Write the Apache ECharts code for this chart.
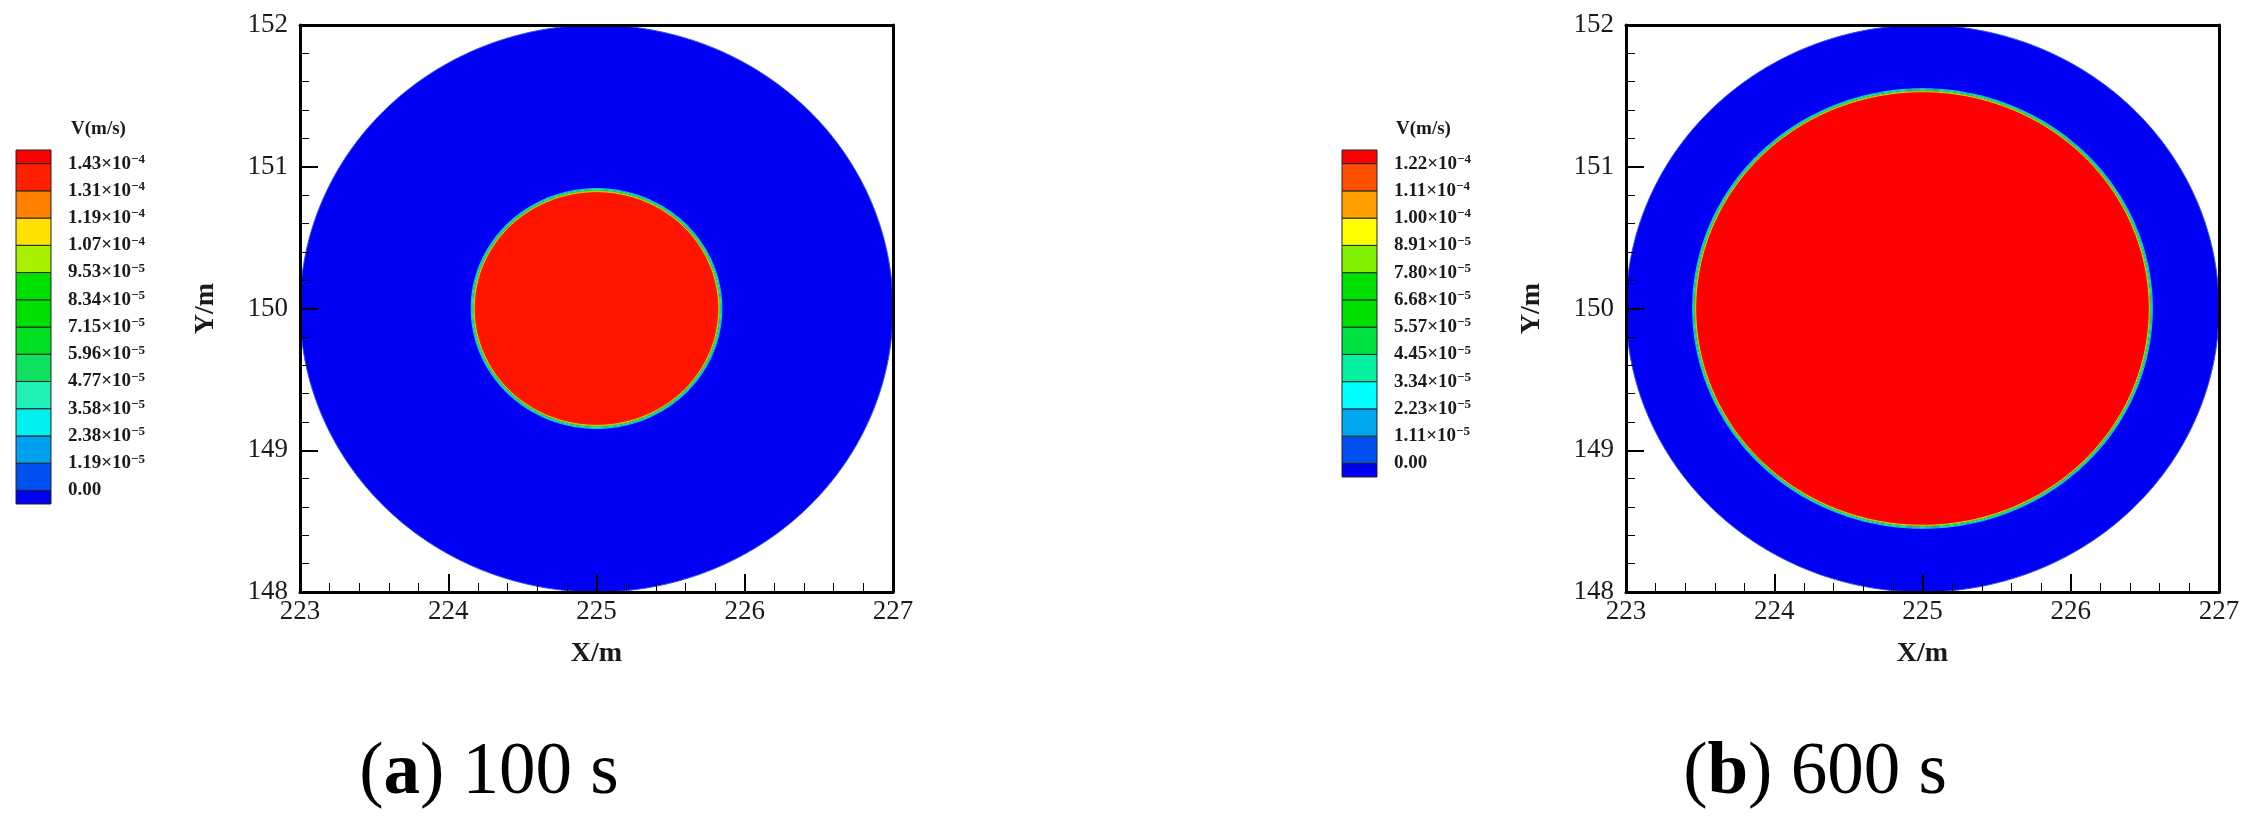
<!DOCTYPE html>
<html>
<head>
<meta charset="utf-8">
<script src="https://cdn.jsdelivr.net/npm/echarts@6/dist/echarts.min.js"></script>
<style>
html,body{margin:0;padding:0;background:#fff;}
#chart{width:2257px;height:833px;}
</style>
</head>
<body>
<div id="chart"></div>
<script>
// ---------------- data ----------------
const xTicks = [223, 224, 225, 226, 227];
const yTicks = [148, 149, 150, 151, 152];

// concentric discs: [centerX, centerY, radius]
const domainA = [225, 150, 2.0];      // whole (blue) domain, panel a
const frontA  = [225, 150, 0.835];    // red region, panel a (100 s)
const domainB = [225, 150, 2.0];
const frontB  = [225, 150, 1.54];     // red region, panel b (600 s)

const levelsA = [0, 1.19e-5, 2.38e-5, 3.58e-5, 4.77e-5, 5.96e-5, 7.15e-5, 8.34e-5, 9.53e-5, 1.07e-4, 1.19e-4, 1.31e-4, 1.43e-4];
const colorsA = ['#0000f0', '#0050f0', '#00a0f0', '#00f0f0', '#20f0b8', '#10e060', '#00e020', '#00e000', '#00e000', '#a8f000', '#ffe000', '#ff8000', '#ff2000', '#ff0000'];
const levelsB = [0, 1.11e-5, 2.23e-5, 3.34e-5, 4.45e-5, 5.57e-5, 6.68e-5, 7.80e-5, 8.91e-5, 1.00e-4, 1.11e-4, 1.22e-4];
const colorsB = ['#0000f0', '#0050f0', '#00a8f0', '#00ffff', '#00f0a0', '#00e040', '#00e000', '#00e000', '#80f000', '#ffff00', '#ffa000', '#ff5000', '#ff0000'];

const legendTitle = 'V(m/s)';
const captions = [['a', '100 s'], ['b', '600 s']];
const xName = 'X/m', yName = 'Y/m';

// ---------------- helpers ----------------
const FONT = '"Liberation Serif", "Times New Roman", "DejaVu Serif", serif';
const BLUE = '#0000f5';
const RED_A = '#ff1400';
const RED_B = '#ff0000';

function fmtLevel(v) {
  if (v === 0) return '0.00';
  const e = Math.floor(Math.log10(v) + 1e-9);
  const m = (v / Math.pow(10, e)).toFixed(2);
  return m + '×10{s|−' + Math.abs(e) + '}';
}

function circlePixels(api, c, offsetPx) {
  const N = 360;
  const cp = api.coord([c[0], c[1]]);
  const pts = [];
  for (let k = 0; k < N; k++) {
    const a = 2 * Math.PI * k / N;
    const p = api.coord([c[0] + c[2] * Math.cos(a), c[1] + c[2] * Math.sin(a)]);
    const dx = p[0] - cp[0], dy = p[1] - cp[1];
    const d = Math.sqrt(dx * dx + dy * dy) || 1;
    const f = (d + (offsetPx || 0)) / d;
    pts.push([cp[0] + dx * f, cp[1] + dy * f]);
  }
  return pts;
}

function discSeries(idx, domain, front, red) {
  return {
    type: 'custom',
    xAxisIndex: idx, yAxisIndex: idx,
    coordinateSystem: 'cartesian2d',
    clip: true,
    z: 2,
    data: [domain.concat([0]), front.concat([1])],
    encode: { x: 0, y: 1 },
    renderItem: function (params, api) {
      const c = [api.value(0), api.value(1), api.value(2)];
      const kind = api.value(3);
      if (kind === 0) {
        return { type: 'polygon', shape: { points: circlePixels(api, c, 0) }, style: { fill: BLUE, stroke: '#3050f8', lineWidth: 1 } };
      }
      return {
        type: 'group',
        children: [
          { type: 'polygon', shape: { points: circlePixels(api, c, 1.5) }, style: { fill: 'none', stroke: '#10b8f0', lineWidth: 1.2 } },
          { type: 'polygon', shape: { points: circlePixels(api, c, 0.5) }, style: { fill: 'none', stroke: '#20e8a0', lineWidth: 1.2 } },
          { type: 'polygon', shape: { points: circlePixels(api, c, -0.5) }, style: { fill: red, stroke: '#30e030', lineWidth: 1.2 } },
          { type: 'polygon', shape: { points: circlePixels(api, c, -1.5) }, style: { fill: 'none', stroke: '#d0e800', lineWidth: 1 } }
        ]
      };
    }
  };
}

function colorbarSeries(idx, levels, colors) {
  const n = levels.length;
  const data = [];
  for (let i = 0; i <= n; i++) {
    const y0 = i === 0 ? 0 : 2 * i - 1;
    const y1 = i === n ? 2 * n : 2 * i + 1;
    data.push([y0, y1, i]);
  }
  return {
    type: 'custom',
    xAxisIndex: idx, yAxisIndex: idx,
    coordinateSystem: 'cartesian2d',
    data: data,
    encode: { y: [0, 1] },
    renderItem: function (params, api) {
      const p0 = api.coord([0, api.value(1)]);
      const p1 = api.coord([1, api.value(0)]);
      return {
        type: 'rect',
        shape: { x: p0[0], y: p0[1], width: p1[0] - p0[0], height: p1[1] - p0[1] },
        style: { fill: colors[api.value(2)], stroke: '#222', lineWidth: 1 }
      };
    }
  };
}

const tickLabel = { fontFamily: FONT, fontSize: 27, color: '#1a1a1a' };
const nameStyle = { fontFamily: FONT, fontSize: 28, fontWeight: 'bold', color: '#1a1a1a' };

function mainX(gi) {
  return {
    gridIndex: gi, type: 'value', min: xTicks[0], max: xTicks[xTicks.length - 1], interval: 1,
    position: 'bottom', z: 5,
    name: xName, nameLocation: 'middle', nameGap: 48, nameTextStyle: nameStyle,
    axisLine: { show: true, onZero: false, lineStyle: { color: '#000', width: 3 } },
    axisTick: { show: true, inside: true, length: 18, lineStyle: { color: '#000', width: 2 } },
    minorTick: { show: true, splitNumber: 5, length: 9, lineStyle: { color: '#000', width: 1 } },
    splitLine: { show: false },
    axisLabel: Object.assign({ margin: 6 }, tickLabel)
  };
}
function boxX(gi) {
  return {
    gridIndex: gi, type: 'value', min: xTicks[0], max: xTicks[xTicks.length - 1], position: 'top', z: 5,
    axisLine: { show: true, onZero: false, lineStyle: { color: '#000', width: 3 } },
    axisTick: { show: false }, axisLabel: { show: false }, splitLine: { show: false }
  };
}
function mainY(gi) {
  return {
    gridIndex: gi, type: 'value', min: yTicks[0], max: yTicks[yTicks.length - 1], interval: 1,
    position: 'left', z: 5,
    name: yName, nameLocation: 'middle', nameGap: 80, nameTextStyle: nameStyle,
    axisLine: { show: true, onZero: false, lineStyle: { color: '#000', width: 3 } },
    axisTick: { show: true, inside: true, length: 18, lineStyle: { color: '#000', width: 2 } },
    minorTick: { show: true, splitNumber: 5, length: 9, lineStyle: { color: '#000', width: 1 } },
    splitLine: { show: false },
    axisLabel: Object.assign({ margin: 12 }, tickLabel)
  };
}
function boxY(gi) {
  return {
    gridIndex: gi, type: 'value', min: yTicks[0], max: yTicks[yTicks.length - 1], position: 'right', z: 5,
    axisLine: { show: true, onZero: false, lineStyle: { color: '#000', width: 3 } },
    axisTick: { show: false }, axisLabel: { show: false }, splitLine: { show: false }
  };
}
function cbX(gi) {
  return { gridIndex: gi, type: 'value', min: 0, max: 1, show: false };
}
function cbY(gi, levels) {
  return {
    gridIndex: gi, type: 'value', min: 0, max: 2 * levels.length, interval: 1, position: 'right',
    axisLine: { show: false }, axisTick: { show: false }, splitLine: { show: false },
    axisLabel: {
      show: true, margin: 17, align: 'left',
      fontFamily: FONT, fontWeight: 'bold', fontSize: 19, color: '#1a1a1a',
      formatter: function (v) {
        const i = Math.round(v);
        if (i % 2 === 1) return fmtLevel(levels[(i - 1) / 2]);
        return '';
      },
      rich: { s: { fontFamily: FONT, fontWeight: 'bold', fontSize: 13, verticalAlign: 'top', padding: [0, 0, 8, 0], color: '#1a1a1a' } }
    }
  };
}

const captionRich = {
  p: { fontFamily: FONT, fontSize: 73, color: '#000' },
  b: { fontFamily: FONT, fontSize: 73, fontWeight: 'bold', color: '#000' }
};

const option = {
  backgroundColor: '#ffffff',
  animation: false,
  grid: [
    { left: 300, top: 25, width: 593, height: 567 },
    { left: 1626, top: 25, width: 593, height: 567 },
    { left: 16, top: 150, width: 35, height: 354 },
    { left: 1342, top: 150, width: 35, height: 327 }
  ],
  xAxis: [mainX(0), mainX(1), boxX(0), boxX(1), cbX(2), cbX(3)],
  yAxis: [mainY(0), mainY(1), boxY(0), boxY(1), cbY(2, levelsA), cbY(3, levelsB)],
  series: [
    discSeries(0, domainA, frontA, RED_A),
    discSeries(1, domainB, frontB, RED_B),
    colorbarSeries(4, levelsA, colorsA),
    colorbarSeries(5, levelsB, colorsB)
  ],
  graphic: [
    { type: 'text', left: 71, top: 120, style: { text: legendTitle, font: 'bold 19px ' + FONT, fill: '#1a1a1a' } },
    { type: 'text', left: 1396, top: 120, style: { text: legendTitle, font: 'bold 19px ' + FONT, fill: '#1a1a1a' } },
    { type: 'text', x: 489, y: 774, style: { text: '{p|(}{b|' + captions[0][0] + '}{p|) ' + captions[0][1] + '}', rich: captionRich, align: 'center', verticalAlign: 'middle' } },
    { type: 'text', x: 1815, y: 774, style: { text: '{p|(}{b|' + captions[1][0] + '}{p|) ' + captions[1][1] + '}', rich: captionRich, align: 'center', verticalAlign: 'middle' } }
  ]
};

const chart = echarts.init(document.getElementById('chart'), null, { renderer: 'canvas' });
chart.setOption(option);
</script>
</body>
</html>
